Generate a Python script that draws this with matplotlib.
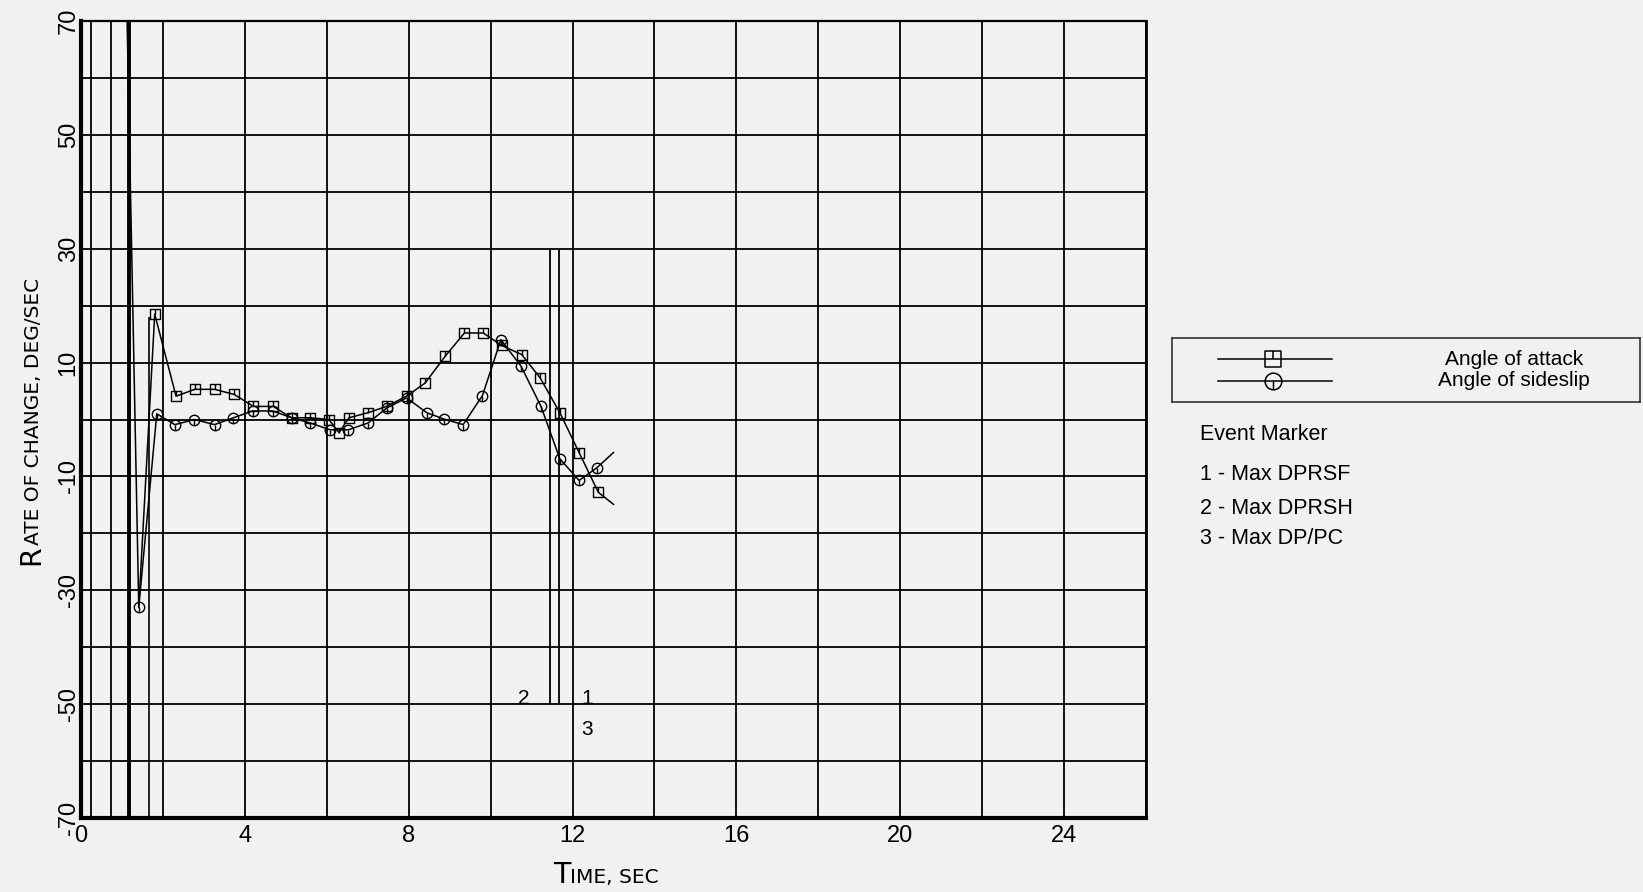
import matplotlib.pyplot as plt
import numpy as np
from matplotlib.path import Path

# time (sec) and rate of change (deg/sec)
alpha_t = [1.41, 1.80, 2.32, 2.78, 3.26, 3.74, 4.21, 4.69, 5.14, 5.59, 6.05, 6.30, 6.54,
           7.01, 7.46, 7.95, 8.40, 8.89, 9.36, 9.82, 10.27, 10.76, 11.21, 11.69, 12.16,
           12.63, 13.00]
alpha_v = [-33.0, 18.5, 4.1, 5.3, 5.3, 4.4, 2.3, 2.3, 0.3, 0.3, 0.0, -2.3, 0.3,
           1.2, 2.3, 4.1, 6.4, 11.1, 15.2, 15.2, 13.0, 11.4, 7.3, 1.2, -5.8,
           -12.8, -14.9]

beta_t = [1.12, 1.41, 1.85, 2.29, 2.77, 3.26, 3.72, 4.19, 4.68, 5.14, 5.59, 6.08, 6.53,
          7.01, 7.46, 7.95, 8.44, 8.85, 9.33, 9.80, 10.25, 10.74, 11.23, 11.69, 12.16,
          12.59, 13.00]
beta_v = [72.0, -33.0, 1.0, -0.9, 0.0, -0.9, 0.3, 1.5, 1.5, 0.3, -0.6, -1.8, -1.8,
          -0.6, 2.0, 3.8, 1.2, 0.1, -0.9, 4.2, 14.0, 9.4, 2.3, -6.9, -10.7,
          -8.5, -5.8]

early_lines = [0.25, 0.74]
thick_line = 1.17
spike_t, spike_top = 1.66, 18.0

event_t = [11.44, 11.66]
event_lo, event_hi = -50, 30
event_labels = [('2', 10.8, -49.0), ('1', 12.35, -49.0), ('3', 12.35, -54.5)]

x_ticks = list(range(0, 27, 2))
x_labels = [str(t) if t % 4 == 0 else '' for t in x_ticks]
y_ticks = list(range(-70, 71, 10))
y_labels = [str(v) if (v + 70) % 20 == 0 else '' for v in y_ticks]

legend_names = ['Angle of attack', 'Angle of sideslip']
event_names = ['Event Marker', '1 - Max DPRSF', '2 - Max DPRSH', '3 - Max DP/PC']

bg = '#f1f1f3'
sans = ['Liberation Sans', 'DejaVu Sans']
plotter = ['DejaVu Sans']


def marker_path(base, tail):
    v = base.vertices
    c = base.codes
    if c is None:
        c = [Path.MOVETO] + [Path.LINETO] * (len(v) - 1)
    verts = list(v) + [(0, 0), tail]
    codes = list(c) + [Path.MOVETO, Path.LINETO]
    return Path(verts, codes)


sq = Path([(-1, -1), (1, -1), (1, 1), (-1, 1), (-1, -1)],
          [Path.MOVETO, Path.LINETO, Path.LINETO, Path.LINETO, Path.CLOSEPOLY])
square_mark = marker_path(sq, (0, 1))
circle_mark = marker_path(Path.unit_circle(), (0, -1))

fig = plt.figure(figsize=(16.43, 8.92), dpi=100, facecolor=bg)
ax = fig.add_axes([81 / 1643, 74 / 892, 1065 / 1643, 797 / 892])
ax.set_facecolor(bg)
ax.set_xlim(0, 26)
ax.set_ylim(-70, 70)

ax.set_xticks(x_ticks)
ax.set_xticklabels(x_labels, family=sans, fontsize=17)
ax.set_yticks(y_ticks)
ax.set_yticklabels(y_labels, family=sans, fontsize=17, rotation=90, va='center')
ax.tick_params(axis='x', length=0, pad=5)
ax.tick_params(axis='y', length=0, pad=1)
ax.grid(True, color='black', lw=1.3)
for side, w in [('left', 3.0), ('bottom', 3.0), ('top', 1.6), ('right', 2.0)]:
    ax.spines[side].set_linewidth(w)

ax.vlines(early_lines, -70, 70, color='black', lw=1.3)
ax.vlines(thick_line, -70, 70, color='black', lw=2.8)
ax.vlines(spike_t, -70, spike_top, color='black', lw=1.2)
ax.vlines(event_t, event_lo, event_hi, color='black', lw=1.3)
for lab, tx, ty in event_labels:
    ax.text(tx, ty, lab, ha='center', va='center', fontsize=15, family=sans)

ax.plot(alpha_t, alpha_v, color='black', lw=1.1, marker=square_mark, ms=7.5,
        mfc='none', mec='black', mew=1.0, markevery=list(range(1, len(alpha_t) - 1)))
ax.plot(beta_t, beta_v, color='black', lw=1.1, marker=circle_mark, ms=7.5,
        mfc='none', mec='black', mew=1.0, markevery=list(range(1, len(beta_t) - 1)))

# axis titles in the plotter style: big first letter, small caps after it
r_txt = fig.text(45 / 1643, (892 - 565) / 892, 'R', rotation=90, ha='right', va='bottom',
                 fontsize=20.5, family=plotter)
ax.annotate('ATE OF CHANGE, DEG/SEC', xy=(1, 1), xycoords=r_txt, xytext=(-1.5, 0),
            textcoords='offset points', rotation=90, ha='right', va='bottom',
            fontsize=14.5, family=plotter, annotation_clip=False)
t_txt = fig.text(553 / 1643, (892 - 883) / 892, 'T', ha='left', va='baseline',
                 fontsize=20.5, family=plotter)
ax.annotate('IME, SEC', xy=(1, 0), xycoords=t_txt, xytext=(0, 1.5),
            textcoords='offset points', ha='left', va='bottom',
            fontsize=14.5, family=plotter, annotation_clip=False)

# legend box
lax = fig.add_axes([1172 / 1643, (892 - 402) / 892, 468 / 1643, 64 / 892])
lax.set_facecolor(bg)
lax.set_xlim(0, 1)
lax.set_ylim(0, 1)
lax.set_xticks([])
lax.set_yticks([])
for s in lax.spines.values():
    s.set_linewidth(1.2)
    s.set_color('#333333')
for name, mk, y in zip(legend_names, [square_mark, circle_mark], [0.67, 0.33]):
    lax.plot([0.098, 0.342], [y, y], color='black', lw=1.1)
    lax.plot([0.216], [y], marker=mk, ms=12, mfc='none', mec='black', mew=1.1, ls='none')
    lax.text(0.73, y, name, ha='center', va='center', fontsize=15, family=sans)

for name, y in zip(event_names, [435, 475, 508, 538]):
    fig.text(1200 / 1643, (892 - y) / 892, name, ha='left', va='center',
             fontsize=15.5, family=sans)

fig.savefig('out.png', dpi=100, facecolor=bg)
